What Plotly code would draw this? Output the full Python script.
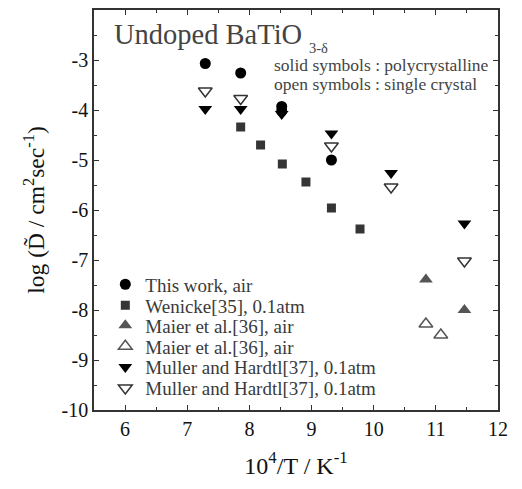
import plotly.graph_objects as go

# 10^4/T (K^-1) and log D~ (cm^2/s) for each data set
this_work_x = [7.29, 7.86, 8.52, 8.52, 9.32]
this_work_y = [-3.07, -3.26, -3.93, -4.02, -5.00]

wenicke_x = [7.86, 8.18, 8.53, 8.91, 9.32, 9.78]
wenicke_y = [-4.34, -4.70, -5.08, -5.44, -5.96, -6.38]

maier_poly_x = [10.84, 11.46]
maier_poly_y = [-7.39, -8.00]

maier_single_x = [10.84, 11.08]
maier_single_y = [-8.28, -8.50]

muller_poly_x = [7.29, 7.86, 8.52, 9.32, 10.28, 11.46]
muller_poly_y = [-3.98, -3.98, -4.08, -4.47, -5.26, -6.27]

muller_single_x = [7.29, 7.86, 9.32, 10.28, 11.46]
muller_single_y = [-3.62, -3.77, -4.72, -5.54, -7.02]

x_ticks = [6, 7, 8, 9, 10, 11, 12]
y_ticks = [-10, -9, -8, -7, -6, -5, -4, -3, -2]

SERIF = "Liberation Serif"

series = [
    ("This work, air", this_work_x, this_work_y,
     dict(symbol="circle", size=11, color="#000000")),
    ("Wenicke[35], 0.1atm", wenicke_x, wenicke_y,
     dict(symbol="square", size=9, color="#353535")),
    ("Maier et al.[36], air", maier_poly_x, maier_poly_y,
     dict(symbol="triangle-up", size=12, color="#555555")),
    ("Maier et al.[36], air", maier_single_x, maier_single_y,
     dict(symbol="triangle-up-open", size=12, color="#555555",
          line=dict(width=1.5, color="#555555"))),
    ("Muller and Hardtl[37], 0.1atm", muller_poly_x, muller_poly_y,
     dict(symbol="triangle-down", size=12, color="#000000")),
    ("Muller and Hardtl[37], 0.1atm", muller_single_x, muller_single_y,
     dict(symbol="triangle-down-open", size=12, color="#333333",
          line=dict(width=1.5, color="#333333"))),
]

# one single-entry legend per series, stacked down the lower left corner
legend_rows = [0.314, 0.2615, 0.2117, 0.159, 0.107, 0.0548]

fig = go.Figure()
layout_legends = {}
for i, (name, xs, ys, mk) in enumerate(series):
    key = "legend" if i == 0 else f"legend{i + 1}"
    fig.add_trace(go.Scatter(x=xs, y=ys, mode="markers", name=name,
                             marker=mk, legend=key))
    layout_legends[key] = dict(
        x=0.028, y=legend_rows[i], xanchor="left", yanchor="middle",
        bgcolor="rgba(0,0,0,0)", borderwidth=0,
        font=dict(family=SERIF, size=19, color="#3a3a3a"),
    )

axis_common = dict(
    showline=True, linecolor="#333333", linewidth=1.5, mirror="ticks",
    ticks="inside", ticklen=5, tickwidth=1.2, tickcolor="#333333",
    showgrid=False, zeroline=False,
    tickfont=dict(family=SERIF, size=20, color="#111111"),
    minor=dict(ticks="inside", ticklen=3, tickwidth=1, tickcolor="#333333",
               dtick=0.5, showgrid=False),
)

fig.update_layout(
    width=522, height=489,
    margin=dict(l=94, r=24, t=8, b=79),
    paper_bgcolor="white", plot_bgcolor="white",
    showlegend=True,
    font=dict(family=SERIF),
    xaxis=dict(axis_common, range=[5.5, 12],
               tickvals=x_ticks, ticktext=[str(v) for v in x_ticks],
               title=dict(text="10<sup>4</sup>/T / K<sup>-1</sup>",
                          font=dict(family=SERIF, size=24, color="#111111"),
                          standoff=18)),
    yaxis=dict(axis_common, range=[-10, -2],
               tickvals=y_ticks, ticktext=[str(v) for v in y_ticks],
               title=dict(text="log (D\u0303 / cm<sup>2</sup>sec<sup>-1</sup>)",
                          font=dict(family=SERIF, size=23.5, color="#111111"),
                          standoff=10)),
    annotations=[
        dict(text="Undoped BaTiO", x=0.045, y=0.983, xref="paper", yref="paper",
             xanchor="left", yanchor="top", showarrow=False,
             font=dict(family=SERIF, size=28.5, color="#444444")),
        dict(text="3-\u03b4", x=0.527, y=0.905, xref="paper", yref="paper",
             xanchor="left", yanchor="middle", showarrow=False,
             font=dict(family=SERIF, size=14.5, color="#444444")),
        dict(text="solid symbols : polycrystalline", x=0.44, y=0.863,
             xref="paper", yref="paper", xanchor="left", yanchor="middle",
             showarrow=False, font=dict(family=SERIF, size=17.5, color="#444444")),
        dict(text="open symbols : single crystal", x=0.44, y=0.814,
             xref="paper", yref="paper", xanchor="left", yanchor="middle",
             showarrow=False, font=dict(family=SERIF, size=17.5, color="#444444")),
    ],
    **layout_legends,
)

fig.write_html("out.html")
